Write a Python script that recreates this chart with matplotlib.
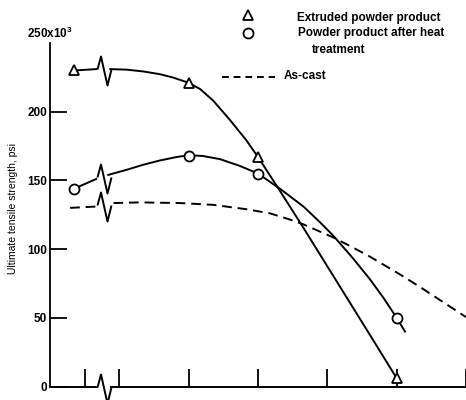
import numpy as np
import matplotlib
matplotlib.use('Agg')
import matplotlib.pyplot as plt
from matplotlib.path import Path
from matplotlib.markers import MarkerStyle

plt.rcParams['font.family'] = ['Liberation Sans', 'DejaVu Sans']
plt.rcParams['mathtext.default'] = 'regular'

# test points (x axis is broken between room temperature and 400)
temp_pts = [270, 600, 800, 1200]
extruded = [230, 221, 167, 6]
heat_treated = [144, 168, 155, 50]

# faired curves, left and right of the axis break
x_break = 355
ext_left_x = [270, 334]
ext_left_y = [230, 231]
ext_right_x = [374, 421, 469, 517, 556, 600, 633, 671, 719, 767, 800, 863, 931, 979, 1027, 1075, 1123, 1200]
ext_right_y = [231, 230.6, 229.3, 227.3, 224.8, 221, 216.5, 208, 194, 179, 167, 142.5, 115.5, 96, 76.5, 57, 37.5, 6]

ht_left_x = [270, 333]
ht_left_y = [144, 151]
ht_right_x = [368, 421, 469, 517, 565, 600, 640, 690, 748, 800, 863, 931, 979, 1017, 1075, 1123, 1162, 1200, 1224]
ht_right_y = [154, 157.7, 161.4, 164.5, 167, 168.3, 167.8, 165.5, 160.5, 155, 144, 131, 119.5, 109.8, 93, 78, 64.5, 50, 40]

cast_left_x = [258, 335]
cast_left_y = [130, 131]
cast_right_x = [383, 460, 575, 671, 767, 835, 892, 931, 1017, 1075, 1123, 1210, 1267, 1400]
cast_right_y = [133.5, 134, 133.5, 132.2, 129, 126, 121.5, 118, 108.5, 101, 94.5, 81.5, 72.5, 50.5]

# level of each curve where the break symbol sits
break_y = [231, 152.5, 132]

xticks = [300, 400, 600, 800, 1000, 1200, 1400]
yticks = [0, 50, 100, 150, 200]

# zig-zag break symbol (in pixels around its centre)
brk = MarkerStyle(Path([(-7, 0), (-3.5, 13), (3, -16), (7, 0)]))
brk_ms = 2 * 16 * 72 / 100

LW = 1.4
fig = plt.figure(figsize=(4.66, 4.0), dpi=100)
ax = fig.add_axes([50 / 466, 13.5 / 400, 416 / 466, 343.5 / 400])

# extruded powder product
ax.plot(ext_left_x, ext_left_y, color='k', lw=LW)
ax.plot(ext_right_x, ext_right_y, color='k', lw=LW)
ax.plot(temp_pts, extruded, ls='none', marker='^', ms=7.5, mfc='white', mec='k', mew=1.3, zorder=4)

# powder product after heat treatment
ax.plot(ht_left_x, ht_left_y, color='k', lw=LW)
ax.plot(ht_right_x, ht_right_y, color='k', lw=LW)
ax.plot(temp_pts, heat_treated, ls='none', marker='o', ms=7.2, mfc='white', mec='k', mew=1.3, zorder=4)

# as-cast
ax.plot(cast_left_x, cast_left_y, color='k', lw=LW, dashes=(5, 3))
ax.plot(cast_right_x, cast_right_y, color='k', lw=LW, dashes=(5, 3))

# break symbols on the curves and on the x axis
ax.plot([x_break] * len(break_y), break_y, ls='none', marker=brk, ms=brk_ms,
        mfc='none', mec='k', mew=LW)
ax.plot([x_break], [0], ls='none', marker=brk, ms=brk_ms, mfc='none', mec='k', mew=LW, clip_on=False)
ax.plot([200, x_break - 20], [0, 0], color='k', lw=LW, clip_on=False)
ax.plot([x_break + 20, 1400], [0, 0], color='k', lw=LW, clip_on=False)

ax.set_xlim(200, 1400)
ax.set_ylim(0, 250)
for s in ['top', 'right', 'bottom']:
    ax.spines[s].set_visible(False)
ax.spines['left'].set_linewidth(1.3)
ax.set_xticks(xticks)
ax.set_yticks(yticks)
ax.tick_params(axis='x', direction='in', length=13, width=1.3, labelbottom=False)
ax.tick_params(axis='y', direction='in', length=12, width=1.3, labelsize=8.5, pad=2)
for lab in ax.get_yticklabels():
    lab.set_fontweight('bold')
ax.text(0, 1.005, '250x10$^3$', transform=ax.transAxes, ha='center', va='bottom',
        fontsize=8.5, fontweight='bold')

fig.text(13 / 466, 1 - 208 / 400, 'Ultimate tensile strength, psi', rotation=90,
         ha='center', va='center', fontsize=7.5)

# key drawn by hand like the original
tf = fig.transFigure
ax.plot([248 / 466], [1 - 15 / 400], transform=tf, clip_on=False, ls='none', marker='^',
        ms=7.5, mfc='white', mec='k', mew=1.3)
ax.plot([248 / 466], [1 - 33 / 400], transform=tf, clip_on=False, ls='none', marker='o',
        ms=7.2, mfc='white', mec='k', mew=1.3)
ax.plot([222 / 466, 275 / 466], [1 - 77 / 400] * 2, transform=tf, clip_on=False,
        color='k', lw=LW, dashes=(3.5, 2.5))
key_font = dict(va='center', fontsize=8.5, fontweight='bold')
fig.text(297 / 466, 1 - 18 / 400, 'Extruded powder product', **key_font)
fig.text(298 / 466, 1 - 33 / 400, 'Powder product after heat', **key_font)
fig.text(312 / 466, 1 - 50 / 400, 'treatment', **key_font)
fig.text(284 / 466, 1 - 76 / 400, 'As-cast', **key_font)

plt.savefig('out.png', dpi=100)
